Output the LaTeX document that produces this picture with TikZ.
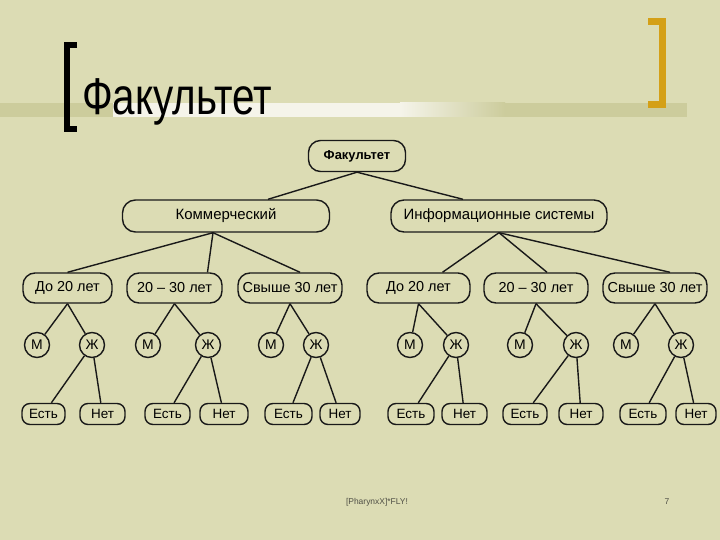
\documentclass[tikz,border=0pt]{standalone}
\usepackage{fontspec}
\setmainfont{Liberation Sans}
\usepackage{graphicx}
\usepackage{tikz}
\usetikzlibrary{positioning}
\usepackage{xcolor}
\definecolor{slidebg}{RGB}{220,220,180}
\definecolor{bandkhaki}{RGB}{204,204,156}
\definecolor{bandwhite}{RGB}{245,244,234}
\definecolor{bracketgold}{RGB}{212,160,23}
\definecolor{inkgray}{RGB}{25,25,25}
\definecolor{footgray}{RGB}{80,80,70}
\tikzset{
    % Faculty tree
    facbox/.style={rectangle, rounded corners=12bp, draw=inkgray, line width=1.4bp,
                minimum width=97bp, minimum height=31bp, align=center,
                font=\fontsize{13}{15}\selectfont\bfseries},
    specbox/.style={rectangle, rounded corners=13bp, draw=inkgray, line width=1.4bp,
                minimum width=#1, minimum height=32bp, align=center,
                font=\fontsize{15}{17}\selectfont},
    agebox/.style={rectangle, rounded corners=12bp, draw=inkgray, line width=1.4bp,
                minimum width=#1, minimum height=30bp, inner xsep=3bp, align=center,
                font=\fontsize{14.5}{16}\selectfont},
    sexnode/.style={circle, draw=inkgray, line width=1.4bp, minimum size=25bp,
                inner sep=0pt, font=\fontsize{14}{16}\selectfont},
    ansbox/.style={rectangle, rounded corners=8bp, draw=inkgray, line width=1.4bp,
                minimum width=#1, minimum height=21bp, inner sep=0pt, align=center,
                font=\fontsize{13.5}{15}\selectfont},
    tline/.style={draw=inkgray, line width=1.4bp},
    % Slide frame
    footlbl/.style={font=\fontsize{8.5}{10}\selectfont, text=footgray},
}

\begin{document}
\begin{tikzpicture}[x=1bp, y=-1bp]
\useasboundingbox (0,0) rectangle (720,540);
\fill[slidebg] (0,0) rectangle (720,540);

% title band and brackets
\fill[bandkhaki] (0,103) rectangle (687,117);
\fill[bandwhite] (113,103) rectangle (400,117);
\shade[left color=bandwhite, right color=bandkhaki] (400,103) rectangle (505,117);
\draw[line width=6bp, miter limit=10] (77,45) -- (66.5,45) -- (66.5,129) -- (77,129);
\draw[bracketgold, line width=7bp, miter limit=10] (648,21.5) -- (662.5,21.5) -- (662.5,104.5) -- (648,104.5);
\node[font=\fontsize{52}{60}\selectfont, anchor=base west, inner sep=0pt] (title) at (82,115)
    {\scalebox{0.78}[1]{Факультет}};

\node[facbox] (fac) at (357,156) {Факультет};
\node[specbox=207bp] (komm) at (226,216) {Коммерческий};
\node[specbox=216bp] (info) at (499,216) {Информационные системы};

\node[agebox=89bp]  (a1) at (67.5,288)  {До 20 лет};
\node[agebox=95bp]  (a2) at (174.5,288) {20 -- 30 лет};
\node[agebox=104bp] (a3) at (290,288)   {Свыше 30 лет};
\node[agebox=103bp] (b1) at (418.5,288) {До 20 лет};
\node[agebox=104bp] (b2) at (536,288)   {20 -- 30 лет};
\node[agebox=104bp] (b3) at (655,288)   {Свыше 30 лет};

\node[sexnode] (m1) at (37,345)  {М};
\node[sexnode] (z1) at (92,345)  {Ж};
\node[sexnode] (m2) at (148,345) {М};
\node[sexnode] (z2) at (208,345) {Ж};
\node[sexnode] (m3) at (271,345) {М};
\node[sexnode] (z3) at (316,345) {Ж};
\node[sexnode] (m4) at (410,345) {М};
\node[sexnode] (z4) at (456,345) {Ж};
\node[sexnode] (m5) at (520,345) {М};
\node[sexnode] (z5) at (576,345) {Ж};
\node[sexnode] (m6) at (626,345) {М};
\node[sexnode] (z6) at (681,345) {Ж};

\node[ansbox=43bp] (e1) at (43.5,414)  {Есть};
\node[ansbox=45bp] (n1) at (102.5,414) {Нет};
\node[ansbox=45bp] (e2) at (167.5,414) {Есть};
\node[ansbox=48bp] (n2) at (224,414)   {Нет};
\node[ansbox=47bp] (e3) at (288.5,414) {Есть};
\node[ansbox=40bp] (n3) at (340,414)   {Нет};
\node[ansbox=46bp] (e4) at (411,414)   {Есть};
\node[ansbox=45bp] (n4) at (464.5,414) {Нет};
\node[ansbox=44bp] (e5) at (525,414)   {Есть};
\node[ansbox=44bp] (n5) at (581,414)   {Нет};
\node[ansbox=46bp] (e6) at (643,414)   {Есть};
\node[ansbox=40bp] (n6) at (696,414)   {Нет};

\draw[tline] (fac.south) -- ([xshift=42bp]komm.north);
\draw[tline] (fac.south) -- ([xshift=-36bp]info.north);

\draw[tline] ([xshift=-13bp]komm.south) -- (a1.north);
\draw[tline] ([xshift=-13bp]komm.south) -- ([xshift=33bp]a2.north);
\draw[tline] ([xshift=-13bp]komm.south) -- ([xshift=10bp]a3.north);
\draw[tline] (info.south) -- ([xshift=24bp]b1.north);
\draw[tline] (info.south) -- ([xshift=11bp]b2.north);
\draw[tline] (info.south) -- ([xshift=15bp]b3.north);

\draw[tline] (a1.south) -- (m1);
\draw[tline] (a1.south) -- (z1);
\draw[tline] (a2.south) -- (m2);
\draw[tline] (a2.south) -- (z2);
\draw[tline] (a3.south) -- (m3);
\draw[tline] (a3.south) -- (z3);
\draw[tline] (b1.south) -- (m4);
\draw[tline] (b1.south) -- (z4);
\draw[tline] (b2.south) -- (m5);
\draw[tline] (b2.south) -- (z5);
\draw[tline] (b3.south) -- (m6);
\draw[tline] (b3.south) -- (z6);

\draw[tline] (z1) -- (e1);
\draw[tline] (z1) -- (n1);
\draw[tline] (z2) -- (e2);
\draw[tline] (z2) -- (n2);
\draw[tline] (z3) -- (e3);
\draw[tline] (z3) -- (n3);
\draw[tline] (z4) -- (e4);
\draw[tline] (z4) -- (n4);
\draw[tline] (z5) -- (e5);
\draw[tline] (z5) -- (n5);
\draw[tline] (z6) -- (e6);
\draw[tline] (z6) -- (n6);

\node[footlbl] (foot) at (377,502) {[PharynxX]*FLY!};
\node[footlbl] (pagenum) at (667,502) {7};
\end{tikzpicture}
\end{document}
